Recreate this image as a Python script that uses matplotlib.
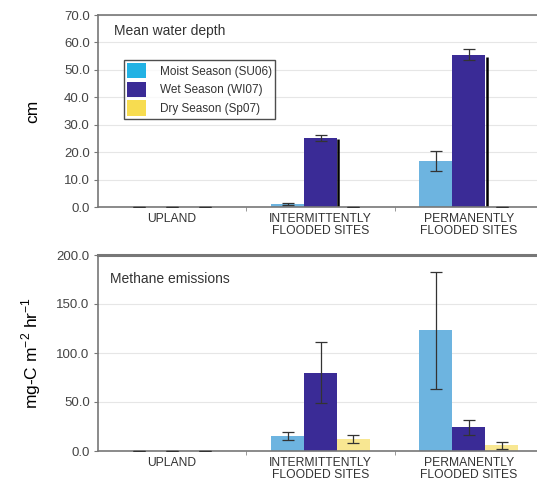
import matplotlib
matplotlib.use("Agg")
import matplotlib.pyplot as plt
from matplotlib.patches import Patch
import numpy as np

plt.rcParams['font.family'] = ['Liberation Sans', 'DejaVu Sans']

categories = ["UPLAND", "INTERMITTENTLY\nFLOODED SITES", "PERMANENTLY\nFLOODED SITES"]
seasons = ["Moist Season (SU06)", "Wet Season (WI07)", "Dry Season (Sp07)"]

depth_moist = [0.0, 1.1, 16.8]
depth_moist_err = [0.0, 0.3, 3.5]
depth_wet = [0.0, 25.2, 55.5]
depth_wet_err = [0.0, 1.0, 2.0]
depth_dry = [0.0, 0.0, 0.0]
depth_dry_err = [0.0, 0.0, 0.0]

ch4_moist = [0.0, 15.5, 123.0]
ch4_moist_err = [0.0, 3.8, 60.0]
ch4_wet = [0.0, 80.0, 24.0]
ch4_wet_err = [0.0, 31.0, 8.0]
ch4_dry = [0.0, 12.0, 6.0]
ch4_dry_err = [0.0, 4.0, 3.5]

bar_colors = ["#6db4e0", "#3a2b96", "#f8e792"]
legend_colors = ["#22b2e4", "#3a2b96", "#f7dc50"]

W, H = 537, 483
fig = plt.figure(figsize=(W / 100, H / 100), dpi=100)

def make_ax(top_px, bot_px):
    left = 98 / W
    right = 543 / W
    return fig.add_axes([left, 1 - bot_px / H, right - left, (bot_px - top_px) / H])

ax1 = make_ax(15, 207)
ax2 = make_ax(255, 451)

x = np.arange(len(categories))
bw = 1 / 4.5
offs = [-bw, 0, bw]

def draw(ax, vals, errs, ymax, step, shadow=False):
    bars_all = []
    for i, (v, e) in enumerate(zip(vals, errs)):
        bars = ax.bar(x + offs[i], v, bw, color=bar_colors[i], zorder=2)
        ax.errorbar(x + offs[i], v, yerr=e, fmt='none', ecolor='#333333',
                    elinewidth=0.9, capsize=4, capthick=0.9, zorder=3)
        bars_all.append(bars)
    if shadow:
        for p in bars_all[1]:
            h = p.get_height()
            if h > 0:
                xr = p.get_x() + p.get_width()
                ax.plot([xr + 0.008, xr + 0.008], [0, h * 0.985], color='black',
                        lw=1.8, zorder=1.9, solid_capstyle='butt')
    ax.set_xlim(-0.5, 2.5)
    ax.set_ylim(0, ymax)
    ax.set_yticks(np.arange(0, ymax + 0.1, step))
    ax.set_yticklabels([f"{t:.1f}" for t in np.arange(0, ymax + 0.1, step)])
    ax.set_xticks(x)
    ax.set_xticklabels(categories, fontsize=8.7, color='#333333', linespacing=1.05)
    ax.set_xticks([0.5, 1.5], minor=True)
    ax.tick_params(axis='x', which='major', length=0, pad=4)
    ax.tick_params(axis='x', which='minor', length=3, color='#888888', direction='out')
    ax.tick_params(axis='y', length=3, color='#777777', labelsize=9.5, labelcolor='#444444', pad=3)
    ax.grid(axis='y', color='#e6e6e6', lw=0.8, zorder=0)
    ax.set_axisbelow(True)
    for s in ['left', 'bottom', 'top']:
        ax.spines[s].set_color('#777777')
        ax.spines[s].set_linewidth(1.2)
    ax.spines['right'].set_visible(False)

draw(ax1, [depth_moist, depth_wet, depth_dry], [depth_moist_err, depth_wet_err, depth_dry_err], 70, 10, shadow=True)
draw(ax2, [ch4_moist, ch4_wet, ch4_dry], [ch4_moist_err, ch4_wet_err, ch4_dry_err], 200, 50)
ax2.spines['top'].set_linewidth(2.2)

ax1.text(0.036, 0.915, "Mean water depth", transform=ax1.transAxes, fontsize=10, color='#333333', va='center')
ax2.text(0.027, 0.88, "Methane emissions", transform=ax2.transAxes, fontsize=10, color='#333333', va='center')

ax1.set_ylabel("cm", fontsize=12.5, labelpad=17)
ax2.set_ylabel("mg-C m$^{\\mathregular{-2}}$ hr$^{\\mathregular{-1}}$", fontsize=12.5, labelpad=10)

handles = [Patch(facecolor=c, edgecolor='none') for c in legend_colors]
leg = ax1.legend(handles, seasons, loc='upper left', bbox_to_anchor=(0.058, 0.765),
                 fontsize=8.5, frameon=True, fancybox=False, edgecolor='#222222',
                 handlelength=1.65, handleheight=1.6, labelspacing=0.3, borderpad=0.25,
                 handletextpad=1.2, borderaxespad=0)
leg.get_frame().set_linewidth(1.0)
for t in leg.get_texts():
    t.set_color('#333333')

fig.savefig("out.png", dpi=100)
